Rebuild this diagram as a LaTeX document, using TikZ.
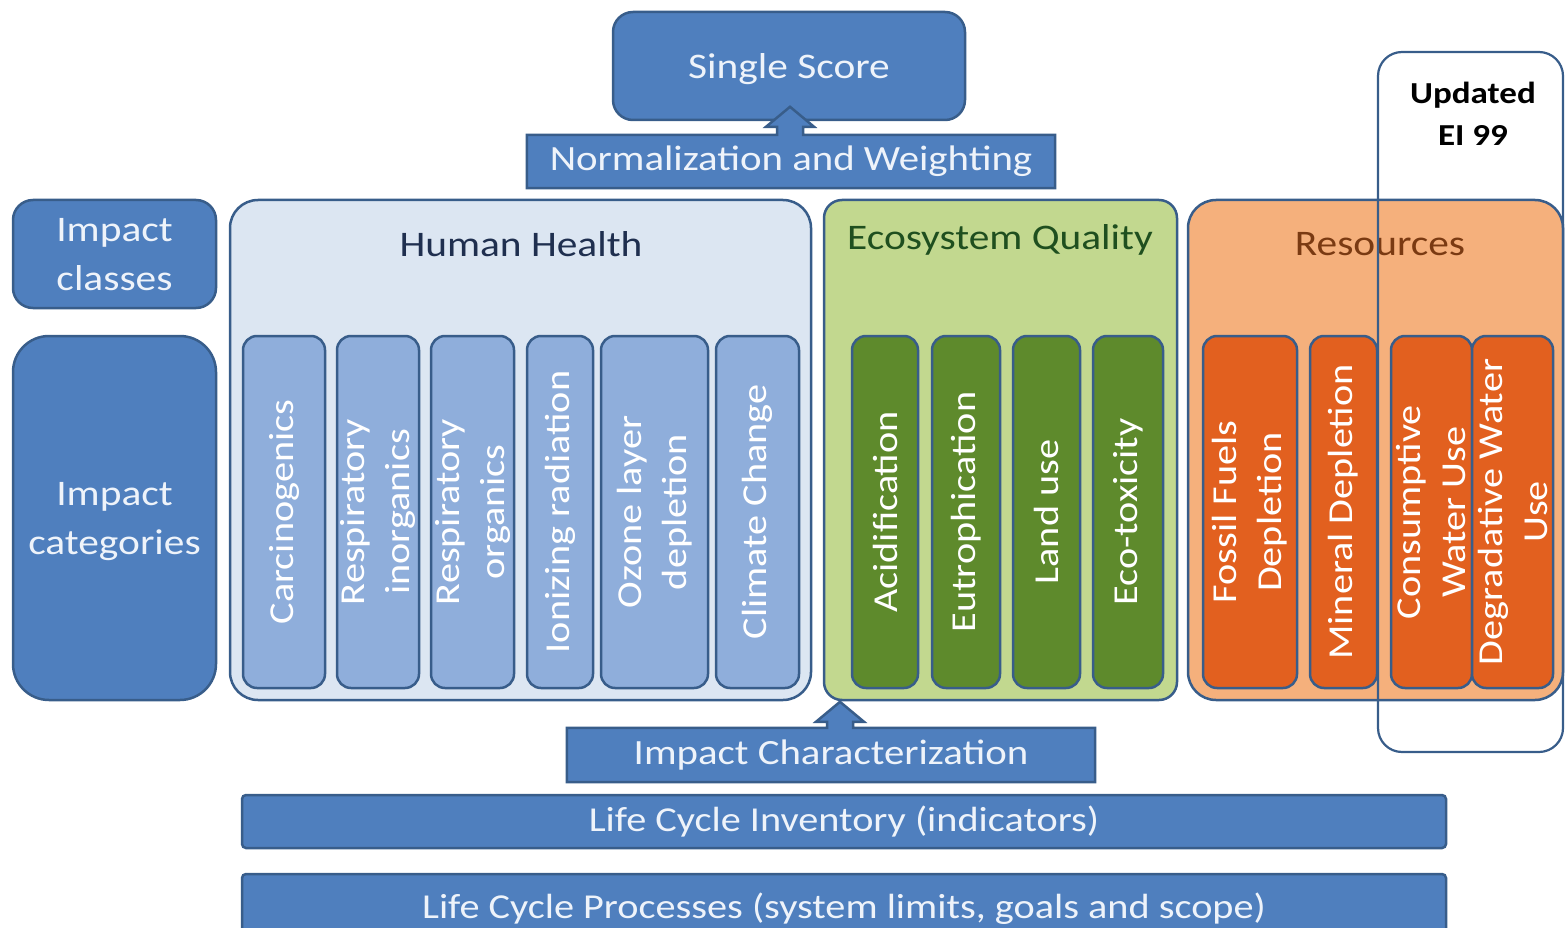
\documentclass[tikz,border=0pt]{standalone}
\usepackage{fontspec}
\setmainfont{Carlito}[FakeStretch=1.15]
\definecolor{dkblue}{HTML}{4F7FBE}
\definecolor{bordc}{HTML}{385D8A}
\definecolor{hhfill}{HTML}{DCE6F2}
\definecolor{hhcol}{HTML}{8FAEDB}
\definecolor{hhtitle}{HTML}{1F2F4F}
\definecolor{eqfill}{HTML}{C2D88F}
\definecolor{eqcol}{HTML}{5E8A2C}
\definecolor{eqtitle}{HTML}{1F4F1F}
\definecolor{resfill}{HTML}{F5B07C}
\definecolor{rescol}{HTML}{E2601F}
\definecolor{restitle}{HTML}{7A3A12}
\definecolor{lighttxt}{HTML}{EEF3FA}
\begin{document}
\begin{tikzpicture}[x=1pt,y=-1pt,
  bluebox/.style={draw=bordc, fill=dkblue, line width=2.5pt, rounded corners=18pt,
    text=lighttxt, align=center, inner sep=0pt, text depth=0pt, font=\fontsize{36}{49}\selectfont},
  container/.style={draw=bordc, line width=2.5pt, rounded corners=28pt, inner sep=0pt},
  titletext/.style={font=\fontsize{36}{40}\selectfont, inner sep=0pt},
  colbox/.style={rotate=90, draw=bordc, line width=2.5pt, rounded corners=14pt,
    minimum width=352pt, align=center, inner sep=0pt, text=white,
    font=\fontsize{35}{45}\selectfont},
  callout/.style={draw=bordc, fill=dkblue, line width=2.5pt, line join=miter},
  callouttext/.style={text=lighttxt, font=\fontsize{35.5}{40}\selectfont, inner sep=0pt},
  barbox/.style={draw=bordc, fill=dkblue, line width=2.5pt, rounded corners=4pt,
    minimum width=1204pt, inner sep=0pt, text=lighttxt, font=\fontsize{35}{40}\selectfont}
]
\useasboundingbox (0,0) rectangle (1565,928);

% Single score
\node[bluebox, minimum width=352pt, minimum height=108pt, rounded corners=20pt] (ss) at (789,66) {Single Score};

% Normalization and weighting callout
\path node[minimum width=528pt, minimum height=53pt, inner sep=0pt] (normbox) at (791,161.5) {};
\draw[callout] (normbox.south west) -- (normbox.north west)
  -- ([xshift=-14pt]normbox.north) -- ++(0,-8) -- ++(-11,0) -- ([xshift=-1pt,yshift=28pt]normbox.north)
  -- ++(24,20) -- ++(-11,0) -- ([xshift=12pt]normbox.north) -- (normbox.north east)
  -- (normbox.south east) -- cycle;
\node[callouttext] (normtext) at (normbox) {Normalization and Weighting};

% Left labels
\node[bluebox, minimum width=203pt, minimum height=108pt, rounded corners=20pt] (iclass) at (114.5,254) {Impact\\classes};
\node[bluebox, minimum width=203pt, minimum height=364pt, rounded corners=36pt] (icat) at (114.5,518) {Impact\\categories};

% Human health
\node[container, fill=hhfill, minimum width=581pt, minimum height=500pt] (hh) at (520.5,450) {};
\node[titletext, text=hhtitle] (hhtitle) at (521,244) {Human Health};
\node[colbox, fill=hhcol, minimum height=82pt] (carc) at (284,512) {Carcinogenics};
\node[colbox, fill=hhcol, minimum height=82pt] (rinorg) at (378,512) {Respiratory\\inorganics};
\node[colbox, fill=hhcol, minimum height=83pt] (rorg) at (472.5,512) {Respiratory\\organics};
\node[colbox, fill=hhcol, minimum height=66pt] (ion) at (560,512) {Ionizing radiation};
\node[colbox, fill=hhcol, minimum height=107pt] (ozone) at (654.5,512) {Ozone layer\\depletion};
\node[colbox, fill=hhcol, minimum height=83pt] (clim) at (757.5,512) {Climate Change};

% Ecosystem quality
\node[container, fill=eqfill, rounded corners=18pt, minimum width=353pt, minimum height=500pt] (eq) at (1000.5,450) {};
\node[titletext, text=eqtitle] (eqtitle) at (1000,240) {Ecosystem Quality};
\node[colbox, fill=eqcol, minimum height=66pt] (acid) at (885,512) {Acidification};
\node[colbox, fill=eqcol, minimum height=68pt] (eut) at (966,512) {Eutrophication};
\node[colbox, fill=eqcol, minimum height=67pt] (land) at (1046.5,512) {Land use};
\node[colbox, fill=eqcol, minimum height=70pt] (ecotox) at (1128,512) {Eco-toxicity};

% Resources
\node[container, fill=resfill, minimum width=375pt, minimum height=500pt] (res) at (1375.5,450) {};
\node[titletext, text=restitle] (restitle) at (1380,244) {Resources};
\node[colbox, fill=rescol, minimum height=94pt] (fossil) at (1250,512) {Fossil Fuels\\Depletion};
\node[colbox, fill=rescol, minimum height=67pt] (mineral) at (1343.5,512) {Mineral Depletion};
\node[colbox, fill=rescol, minimum height=81pt] (consum) at (1431.5,512) {Consumptive\\Water Use};
\node[colbox, fill=rescol, minimum height=81pt] (degr) at (1512.5,512) {Degradative Water\\Use};

% Updated EI 99 frame
\node[draw=bordc, line width=2.2pt, rounded corners=24pt, minimum width=185pt, minimum height=700pt, inner sep=0pt] (upd) at (1470.5,402) {};
\node[align=center, font=\fontsize{30.5}{42}\selectfont\bfseries, inner sep=0pt] (updtext) at (1473,114) {Updated\\EI 99};

% Impact characterization callout
\path node[minimum width=528pt, minimum height=54pt, inner sep=0pt] (icbox) at (831,755) {};
\draw[callout] (icbox.south west) -- (icbox.north west)
  -- ([xshift=-4pt]icbox.north) -- ++(0,-6) -- ++(-11,0) -- ([xshift=9pt,yshift=26pt]icbox.north)
  -- ++(24,20) -- ++(-11,0) -- ([xshift=22pt]icbox.north) -- (icbox.north east)
  -- (icbox.south east) -- cycle;
\node[callouttext] (ictext) at (icbox) {Impact Characterization};

% Bottom bars
\node[barbox, minimum height=53pt] (lci) at (844,821.5) {Life Cycle Inventory (indicators)};
\node[barbox, minimum height=64pt, text depth=0pt] (lcp) at (844,906) {Life Cycle Processes (system limits, goals and scope)};
\end{tikzpicture}
\end{document}
